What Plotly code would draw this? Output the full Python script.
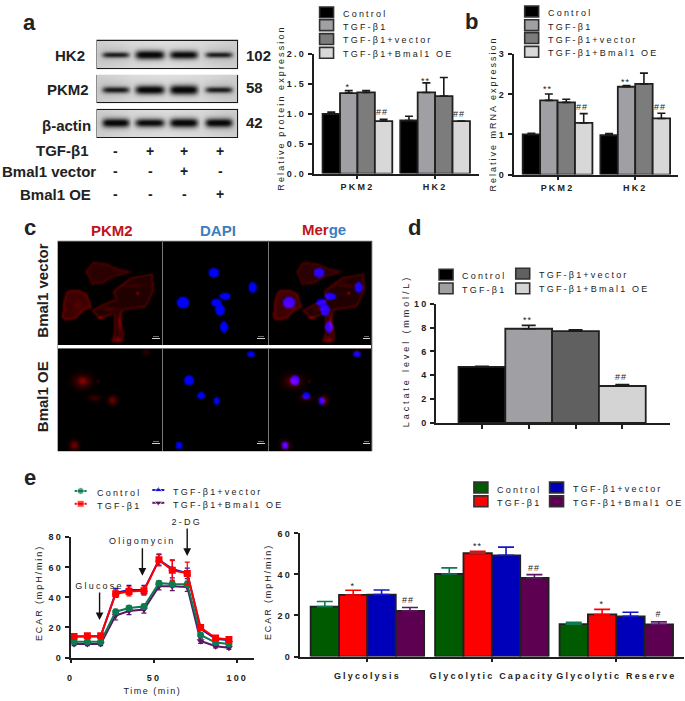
import json
import numpy as np
import plotly.graph_objects as go

W, H = 685, 701

# ---------- data ----------
GROUPS_BD = ["Control", "TGF-β1", "TGF-β1+vector", "TGF-β1+Bmal1 OE"]
GRAY_COLORS = ["#000000", "#a0a0a4", "#7c7c7c", "#d8d8d8"]
D_COLORS = ["#000000", "#a0a0a4", "#606060", "#d4d4d4"]
E_COLORS = ["#005a00", "#ff0000", "#0000bb", "#5e0052"]
LINE_COLORS = ["#0e7a4f", "#ff0000", "#1414c8", "#5b1466"]

GENES = ["PKM2", "HK2"]
PROT_VALUES = [[1.0, 0.89], [1.35, 1.36], [1.36, 1.30], [0.88, 0.88]]
PROT_ERRORS = [[0.03, 0.07], [0.04, 0.16], [0.03, 0.31], [0.03, 0.0]]
MRNA_VALUES = [[1.0, 0.98], [1.85, 2.19], [1.80, 2.26], [1.29, 1.40]]
MRNA_ERRORS = [[0.03, 0.04], [0.16, 0.03], [0.08, 0.27], [0.23, 0.13]]
LACTATE_VALUES = [4.7, 7.9, 7.7, 3.1]
LACTATE_ERRORS = [0.05, 0.28, 0.12, 0.12]

TIME_MIN = [2, 10, 18, 27, 35, 44, 53, 61, 70, 78, 87, 95]
ECAR_CONTROL = [10.5, 10.5, 10.5, 30.5, 33, 34, 49.5, 49, 48.8, 15, 10, 9]
ECAR_TGF = [14, 14.5, 14.5, 42.5, 44, 44.5, 65, 58, 56, 20, 13, 12]
ECAR_VECTOR = [14, 14, 14, 43, 45, 45, 65, 59, 56, 19, 12.5, 11.5]
ECAR_BMAL = [9, 9, 9, 28, 31, 32, 47.5, 47.5, 47, 11, 7.5, 6.5]
ECAR_ERR_CONTROL = [1, 1, 1, 1.5, 1.5, 1.5, 1.5, 2, 2, 1.5, 1, 1]
ECAR_ERR_TGF = [1, 1, 1, 2.5, 3, 3, 4, 6.5, 7.5, 1, 1, 1]
ECAR_ERR_VECTOR = [1, 1, 1, 3, 3, 3, 3.5, 6, 3.5, 1, 1, 1]
ECAR_ERR_BMAL = [1, 1, 1, 3, 2.5, 2.5, 2.5, 3, 3, 1.5, 1, 1]

ECAR_CATS = ["Glycolysis", "Glycolytic Capacity", "Glycolytic Reserve"]
ECAR_VALUES = [[24.3, 40.2, 15.8], [30, 50.3, 20.5], [30.2, 49.3, 19.6], [22.2, 38.3, 15.7]]
ECAR_ERRORS = [[2.5, 3, 0.9], [2.3, 1, 2.5], [2.2, 4, 2], [1.7, 1.6, 1.2]]

# western blot: band darkness and half thickness for four lanes
BLOT_NAMES = ["HK2", "PKM2", "β-actin"]
BLOT_KDA = ["102", "58", "42"]
BLOT_DARK = [[0.85, 1.0, 0.95, 0.85], [0.85, 1.0, 1.0, 0.85], [1.0, 0.95, 1.0, 1.0]]
BLOT_THICK = [[2.6, 4.2, 3.9, 2.6], [3.0, 4.2, 4.6, 2.8], [4.2, 4.0, 4.4, 4.2]]
BLOT_SIGNS = [["-", "+", "+", "+"], ["-", "-", "+", "-"], ["-", "-", "-", "+"]]
BLOT_ROWS = ["TGF-β1", "Bmal1 vector", "Bmal1 OE"]

# immunofluorescence content: nuclei (x, y, rx, ry), stain outlines and soft stain blobs (x, y, sx, sy, level)
NUCLEI = [(638, 185, 16, 16), (757, 230, 12, 16), (672, 257, 18, 10), (645, 276, 15, 12),
          (545, 276, 19, 17), (656, 297, 14, 18), (668, 349, 11, 17),
          (752, 434, 11, 9), (563, 512, 14, 15), (600, 558, 12, 10), (646, 574, 9, 11), (533, 710, 10, 11)]
CELL_OUTLINES = [
    [(175, 320), (180, 270), (190, 240), (225, 237), (250, 250), (265, 290), (240, 300), (215, 325), (185, 330)],
    [(245, 180), (270, 150), (310, 155), (345, 170), (390, 180), (330, 200), (300, 220), (265, 222)],
    [(345, 230), (385, 200), (450, 185), (455, 240), (430, 290), (390, 295), (360, 300), (355, 330),
     (365, 370), (360, 395), (325, 395), (335, 365), (335, 310), (290, 325), (265, 300), (300, 280),
     (340, 265), (330, 245)],
]
OUTLINE_LEVEL = [0.26, 0.18, 0.14]
RIM_LEVEL = [0.2, 0.16, 0.22]
STAIN = [(222, 285, 12, 12, .12), (350, 340, 5, 30, .35), (345, 385, 10, 8, .35), (405, 248, 3, 3, 1.0),
         (295, 322, 10, 3, .5), (320, 295, 22, 6, .2), (395, 225, 30, 5, .15),
         (237, 515, 30, 21, .3), (237, 515, 13, 11, .3), (275, 565, 20, 9, .25), (330, 572, 13, 13, .45),
         (212, 710, 13, 13, .5), (430, 428, 11, 9, .2), (287, 515, 3, 3, .5)]

STARS = [("*", 347, 83), ("##", 381, 109), ("**", 425, 77), ("##", 458, 111),
         ("**", 547, 85), ("##", 582, 103), ("**", 626, 78), ("##", 660, 103),
         ("**", 527, 320), ("##", 621, 377),
         ("*", 352, 589), ("##", 407, 604), ("**", 477, 549), ("##", 533, 571), ("*", 602, 608), ("#", 658, 618)]


# ---------- pixel helpers ----------
def px(x):
    return x / W


def py(y):
    return 1 - y / H


def box(img):
    p = np.pad(img, ((1, 1), (1, 1), (0, 0)), mode="edge")
    return (p[:-2, :-2] + p[:-2, 1:-1] + p[:-2, 2:] + p[1:-1, :-2] + 2 * p[1:-1, 1:-1] + p[1:-1, 2:]
            + p[2:, :-2] + p[2:, 1:-1] + p[2:, 2:]) / 10


def inside(poly, gx, gy):
    mask = np.zeros_like(gx, dtype=bool)
    n = len(poly)
    for i in range(n):
        x1, y1 = poly[i]
        x2, y2 = poly[(i + 1) % n]
        cond = ((y1 > gy) != (y2 > gy)) & (gx < (x2 - x1) * (gy - y1) / ((y2 - y1) or 1e-9) + x1)
        mask ^= cond
    return mask


fig = go.Figure()
axes = {}
n_axes = [0]


def add_axes(x0, x1, y_top, y_bot):
    n_axes[0] += 1
    n = n_axes[0]
    s = "" if n == 1 else str(n)
    axes[f"xaxis{s}"] = dict(domain=[px(x0), px(x1)], anchor=f"y{s}")
    axes[f"yaxis{s}"] = dict(domain=[py(y_bot), py(y_top)], anchor=f"x{s}")
    return f"x{s}", f"y{s}", f"xaxis{s}", f"yaxis{s}"


hidden = dict(visible=False, showgrid=False, zeroline=False, fixedrange=True)
AX = "#1e1e1e"
TICKF = dict(family="Liberation Sans", size=9, color="#222222", weight="bold")


def style_xy(xk, yk, xrange, yrange, yticks, ytext, xticks=None, xtext=None, standoff=5):
    axes[yk].update(range=yrange, tickvals=yticks, ticktext=ytext, ticks="outside", ticklen=4, tickwidth=1.5,
                    tickcolor=AX, linecolor=AX, linewidth=1.8, showline=True, showgrid=False, zeroline=False,
                    tickfont=TICKF)
    axes[xk].update(range=xrange, tickvals=xticks, ticktext=xtext, ticks="outside", ticklen=4, tickwidth=1.5,
                    tickcolor=AX, linecolor=AX, linewidth=1.8, showline=True, showgrid=False, zeroline=False,
                    tickfont=TICKF, ticklabelstandoff=standoff)


def bars(xa, ya, cats_idx, vals, errs, colors, names, width, err_colors=None, cap=4):
    for i, (v, e, c, nm) in enumerate(zip(vals, errs, colors, names)):
        fig.add_trace(go.Bar(
            x=[k + (i - 1.5) * width for k in cats_idx], y=v, width=width, name=nm, xaxis=xa, yaxis=ya,
            marker=dict(color=c, line=dict(color="#202020", width=1.8)),
            error_y=dict(type="data", symmetric=False, array=e, arrayminus=[0] * len(e),
                         color=(err_colors[i] if err_colors else "#1a1a1a"), thickness=1.6, width=cap),
            showlegend=False, hoverinfo="skip"))


# ---------- blots ----------
xa, ya, xk, yk = add_axes(93, 237, 35, 135)
axes[xk].update(hidden, range=[0, 144])
axes[yk].update(hidden, range=[100, 0])
blot = np.ones((100, 144, 3)) * 255.0
yy, xx = np.mgrid[0:100, 0:144]
xx = xx + .5
yy = yy + .5
rows = [(0, 29, 15), (35, 64, 51), (70, 99, 84)]
lanes = [20, 55, 89, 125]
widths = [13.5, 14.5, 14, 13.5]
for r, (a, b, yc) in enumerate(rows):
    val = 224 - 18 * (np.abs(xx - 72) / 72) ** 2
    dark = np.zeros_like(val)
    for l, cx in enumerate(lanes):
        dark += BLOT_DARK[r][l] * np.exp(-((xx - cx) / widths[l]) ** 6) * np.exp(-((yy - yc) / BLOT_THICK[r][l]) ** 2)
        dark += .12 * np.exp(-((xx - cx) / 17) ** 4) * np.exp(-((yy - yc) / 9) ** 2)
    g = val * (1 - np.clip(dark, 0, 1)) + 8 * np.clip(dark, 0, 1)
    m = (yy >= a) & (yy < b)
    for ch in range(3):
        blot[:, :, ch][m] = g[m]
blot = box(blot)
for (a, b, yc) in rows:
    blot[a, :, :] = 25
    blot[b - 1, :, :] = 25
    blot[a:b, 0, :] = 25
    blot[a:b, -1, :] = 25
fig.add_trace(go.Image(z=np.clip(blot, 0, 255).astype(np.uint8), x0=.5, y0=.5, xaxis=xa, yaxis=ya, hoverinfo="skip"))

# ---------- microscopy ----------
xa, ya, xk, yk = add_axes(53, 373, 239, 453)
axes[xk].update(hidden, range=[0, 320])
axes[yk].update(hidden, range=[214, 0])
yy, xx = np.mgrid[0:214, 0:107]
zx = xx * 3.0 + 160 + 1.5
zy = yy * 3.0 + 88 + 1.5
red = np.zeros((214, 107))
for poly, lev, rim in zip(CELL_OUTLINES, OUTLINE_LEVEL, RIM_LEVEL):
    mask = inside(poly, zx, zy).astype(float)
    soft = box(box(mask[:, :, None]))[:, :, 0]
    edge = mask * (soft < .97)
    red += lev * soft + rim * edge
for (x, y, sx, sy, a) in STAIN:
    red += a * np.exp(-((zx - x) / sx) ** 2 - ((zy - y) / sy) ** 2)
red = np.clip(red, 0, 1) * 235
bluepanel = np.zeros((214, 107))
for (x, y, rx, ry) in NUCLEI:
    gx = (zx + 322 - x) / rx
    gy = (zy - y) / ry
    bluepanel = np.maximum(bluepanel, (gx ** 2 + gy ** 2 <= 1) * 255.0)
img = np.zeros((214, 320, 3))
img[:, :107, 0] = red
img[:, 107:214, 2] = bluepanel
img[:, 214:320, 0] = red[:, :106]
img[:, 214:320, 2] = bluepanel[:, :106]
img = box(img)
img[:, 107, :] = 120
img[:, 214, :] = 120
img[106:109, :, :] = 255
img[105, :, :] = 110
img[109, :, :] = 110
img[0, :, :] = 70
img[-1, :, :] = 70
img[:, 0, :] = 70
img[:, -1, :] = 70
for col in (96, 203, 310):
    for row in (98, 205):
        img[row, col:col + 8, :] = 210
        img[row - 2, col + 1:col + 7, :] = 110
fig.add_trace(go.Image(z=np.clip(img, 0, 255).astype(np.uint8), x0=.5, y0=.5, xaxis=xa, yaxis=ya, hoverinfo="skip"))

# ---------- b, protein ----------
xa, ya, xk, yk = add_axes(312, 478, 50, 171)
style_xy(xk, yk, [-0.564, 1.564], [0, 2], [0, .5, 1, 1.5, 2], ["0.0", "0.5", "1.0", "1.5", "2.0"], [0, 1], GENES, 0)
bars(xa, ya, [0, 1], PROT_VALUES, PROT_ERRORS, GRAY_COLORS, GROUPS_BD, 0.2244)

# ---------- b, mRNA ----------
xa, ya, xk, yk = add_axes(513, 678, 50, 172)
style_xy(xk, yk, [-0.564, 1.551], [0, 3], [0, 1, 2, 3], ["0", "1", "2", "3"], [0, 1], GENES, 0)
bars(xa, ya, [0, 1], MRNA_VALUES, MRNA_ERRORS, GRAY_COLORS, GROUPS_BD, 0.2244)

# ---------- d, lactate ----------
xa, ya, xk, yk = add_axes(435, 670, 303, 424)
style_xy(xk, yk, [-0.979, 4.02], [0, 10], [0, 2, 4, 6, 8, 10], ["0", "2", "4", "6", "8", "10"],
         [0, 1, 2, 3], ["", "", "", ""], 0)
for i, (v, e, c, nm) in enumerate(zip(LACTATE_VALUES, LACTATE_ERRORS, D_COLORS, GROUPS_BD)):
    fig.add_trace(go.Bar(x=[i], y=[v], width=1.0, name=nm, xaxis=xa, yaxis=ya,
                         marker=dict(color=c, line=dict(color="#202020", width=1.8)),
                         error_y=dict(type="data", symmetric=False, array=[e], arrayminus=[0],
                                      color="#1a1a1a", thickness=1.6, width=7),
                         showlegend=False, hoverinfo="skip"))

# ---------- e, time course ----------
xa, ya, xk, yk = add_axes(68, 252, 540, 662)
style_xy(xk, yk, [0, 110], [0, 80], [0, 20, 40, 60, 80], ["0", "20", "40", "60", "80"],
         [0, 50, 100], ["0", "50", "100"], 7)
curves = [(ECAR_VECTOR, ECAR_ERR_VECTOR, 2, "triangle-up"), (ECAR_BMAL, ECAR_ERR_BMAL, 3, "triangle-down"),
          (ECAR_CONTROL, ECAR_ERR_CONTROL, 0, "circle"), (ECAR_TGF, ECAR_ERR_TGF, 1, "square")]
for vals, errs, ci, sym in curves:
    fig.add_trace(go.Scatter(x=TIME_MIN, y=vals, mode="lines+markers", name=GROUPS_BD[ci], xaxis=xa, yaxis=ya,
                             line=dict(color=LINE_COLORS[ci], width=2),
                             marker=dict(color=LINE_COLORS[ci], symbol=sym, size=7),
                             error_y=dict(type="data", array=errs, color=LINE_COLORS[ci], thickness=1.2, width=2.5),
                             showlegend=False, hoverinfo="skip"))

# ---------- e, bars ----------
xa, ya, xk, yk = add_axes(298, 684, 536, 661)
style_xy(xk, yk, [-0.544, 2.544], [0, 60], [0, 20, 40, 60], ["0", "20", "40", "60"], [0, 1, 2], ECAR_CATS, 6)
bars(xa, ya, [0, 1, 2], ECAR_VALUES, ECAR_ERRORS, E_COLORS, GROUPS_BD, 0.228, err_colors=LINE_COLORS, cap=8)

# ---------- line legend keys, figure-wide pixel axes ----------
xa, ya, xk, yk = add_axes(0, 685, 0, 701)
axes[xk].update(hidden, range=[0, 685])
axes[yk].update(hidden, range=[701, 0])
KEYS = [(72, 84, 493, 0, "circle"), (72, 84, 506, 1, "square"), (150, 162, 492, 2, "triangle-up"), (150, 162, 505, 3, "triangle-down")]
for x0, x1, y, ci, sym in KEYS:
    fig.add_trace(go.Scatter(x=[x0, (x0 + x1) / 2, x1], y=[y, y, y], mode="lines+markers", xaxis=xa, yaxis=ya,
                             line=dict(color=LINE_COLORS[ci], width=2),
                             marker=dict(color=LINE_COLORS[ci], symbol=sym, size=[0, 7, 0]),
                             showlegend=False, hoverinfo="skip"))

# ---------- annotations ----------
ann = []
shapes = []
spacing = {}
recentre = {}


def text(s, x, y, size=9, color="#222222", bold=True, anchor="center", angle=0, ls=None):
    if ls is not None:
        spacing[len(ann)] = ls
    if angle and ls is not None:
        recentre[len(ann)] = [x, y]
    ann.append(dict(text=s, x=px(x), y=py(y), xref="paper", yref="paper", showarrow=False, xanchor=anchor,
                    yanchor="middle", align=anchor, textangle=angle,
                    font=dict(family="Liberation Sans", size=size, color=color, weight="bold" if bold else "normal")))


def square(x0, y0, x1, y1, c):
    shapes.append(dict(type="rect", xref="paper", yref="paper", x0=px(x0), x1=px(x1), y0=py(y0), y1=py(y1),
                       fillcolor=c, line=dict(color="#303030", width=1.6)))


# panel letters
for s, x, y in [("a", 27, 18), ("b", 471, 17), ("c", 27, 226), ("d", 413, 226), ("e", 27, 479)]:
    text(s, x, y, size=22)
# blot labels
for nm, x, y in zip(BLOT_NAMES, [67, 65, 64], [51, 86, 122]):
    text(nm, x, y, size=15)
for kd, x, y in zip(BLOT_KDA, [257, 253, 253], [51, 84, 119]):
    text(kd, x, y, size=15)
for nm, x, y in zip(BLOT_ROWS, [60, 46, 53], [148, 169, 192]):
    text(nm, x, y, size=15)
for row, y in zip(BLOT_SIGNS, [148, 168, 192]):
    for s, x in zip(row, [113, 148, 182, 218]):
        text(s, x, y, size=14)
# microscopy labels
text("PKM2", 109, 229, size=15, color="#c0141c")
text("DAPI", 216, 229, size=15, color="#3a7fc1")
text('<span style="color:#c0141c">Mer</span><span style="color:#3a7fc1">ge</span>', 322, 228, size=15)
text("Bmal1 vector", 40, 290, size=15, angle=-90)
text("Bmal1 OE", 40, 397, size=15, angle=-90)

# bar legends
for (sx, tx, rows_) in [(318, 339, [(2, 9), (15, 22), (29, 36), (43, 50)]), (524, 545, [(1, 8), (15, 22), (28, 35), (42, 49)])]:
    for (top, ty), c, nm in zip(rows_, GRAY_COLORS, GROUPS_BD):
        square(sx, top, sx + 14, top + 11, c)
        text(nm, tx, ty, anchor="left", bold=False, ls=2.2)
d_leg = [(438, 268, 459, 275), (438, 282, 459, 289), (515, 267, 536, 274), (515, 282, 536, 288)]
for (sx, sy, tx, ty), c, nm in zip(d_leg, D_COLORS, GROUPS_BD):
    square(sx, sy, sx + 14, sy + 11, c)
    text(nm, tx, ty, anchor="left", bold=False, ls=2.2)
e_leg = [(473, 484, 494, 492), (473, 498, 494, 505), (549, 484, 570, 491), (549, 498, 570, 505)]
for (sx, sy, tx, ty), c, nm in zip(e_leg, E_COLORS, GROUPS_BD):
    square(sx, sy, sx + 14, sy + 11, c)
    text(nm, tx, ty, anchor="left", bold=False, ls=2.2)
for (tx, ty), nm in zip([(92, 495), (92, 508), (169, 494), (169, 507)], GROUPS_BD):
    text(nm, tx, ty, anchor="left", bold=False, ls=2.2)

# axis titles
text("Relative protein expression", 281, 108, angle=-90, bold=False, ls=2.1)
text("Relative mRNA expression", 493, 114, angle=-90, bold=False, ls=2.0)
text("Lactate level (mmol/L)", 406, 351, angle=-90, bold=False, ls=2.9)
text("ECAR (mpH/min)", 39, 593, angle=-90, bold=False, ls=1.9)
text("ECAR (mpH/min)", 268, 592, angle=-90, bold=False, ls=1.9)
text("Time (min)", 150, 696, bold=False, ls=1.5)

# significance marks
for s, x, y in STARS:
    text(s, x, y, size=9, bold=False, ls=1)

# injection arrows
for s, x, ytxt, y0, y1 in [("Glucose", 97, 589, 595, 624), ("Oligomycin", 140, 544, 550, 579), ("2-DG", 185, 524, 530, 559)]:
    text(s, x, ytxt, bold=False, ls=2.2)
    ann.append(dict(x=px(x), y=py(y1), xref="paper", yref="paper", ax=0, ay=y0 - y1, axref="pixel", ayref="pixel",
                    showarrow=True, arrowhead=2, arrowsize=1.1, arrowwidth=1.4, arrowcolor="#111111", text=""))

fig.update_layout(width=W, height=H, margin=dict(l=0, r=0, t=0, b=0), paper_bgcolor="white", plot_bgcolor="rgba(0,0,0,0)",
                  showlegend=False, annotations=ann, shapes=shapes, barmode="overlay", **axes)

SPACING = """
document.body.style.margin='0';document.body.style.overflow='hidden';
var SP=%s, RC=%s;
document.querySelectorAll('.main-svg text').forEach(function(t){
  if(!t.closest('g.annotation')){t.style.letterSpacing='2.2px';}
});
document.querySelectorAll('g.annotation').forEach(function(g){
  var i=g.getAttribute('data-index'), t=g.querySelector('text');
  if(!t||!(i in SP))return;
  t.style.letterSpacing=SP[i]+'px';
  if(i in RC){
    var r=t.getBoundingClientRect(), d=document.querySelector('.main-svg').getBoundingClientRect();
    var dx=RC[i][0]-(r.left+r.right)/2+d.left, dy=RC[i][1]-(r.top+r.bottom)/2+d.top;
    g.setAttribute('transform','translate('+dx+','+dy+')');
  }
});
""" % (json.dumps(spacing), json.dumps(recentre))
fig.write_html("out.html", post_script=SPACING, config=dict(displayModeBar=False))
